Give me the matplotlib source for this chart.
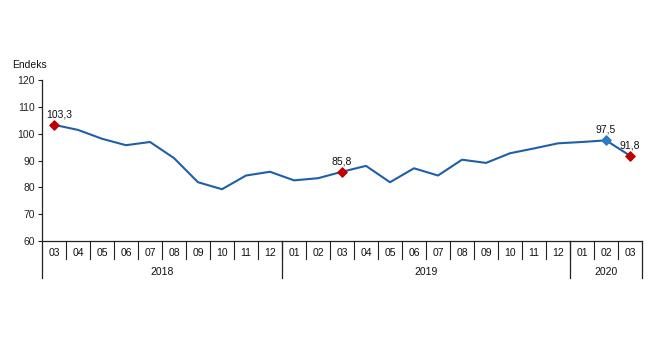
import matplotlib
matplotlib.use('Agg')
import matplotlib.pyplot as plt
from matplotlib.transforms import blended_transform_factory

plt.rcParams['font.family'] = ['Liberation Sans', 'DejaVu Sans']

# veri
months = ["03", "04", "05", "06", "07", "08", "09", "10", "11", "12",
          "01", "02", "03", "04", "05", "06", "07", "08", "09", "10", "11", "12",
          "01", "02", "03"]
years = ["2018", "2019", "2020"]
year_counts = [10, 12, 3]
values = [103.3, 101.4, 98.1, 95.7, 96.9, 90.9, 81.9, 79.3, 84.4, 85.8,
          82.6, 83.4, 85.8, 88.0, 81.9, 87.1, 84.4, 90.3, 89.1, 92.7, 94.5, 96.4,
          96.9, 97.5, 91.8]
red_points = [0, 12, 24]
blue_points = [23]
y_ticks = [60, 70, 80, 90, 100, 110, 120]

LINE = '#1F5FA8'
RED = '#C00000'
BLUE = '#2E7BC0'

fig = plt.figure(figsize=(6.5, 3.6), dpi=100)
ax = fig.add_axes([42 / 650, 119 / 360, 600 / 650, 161 / 360])

x = list(range(len(values)))
ax.plot(x, values, color=LINE, lw=1.5, zorder=2)
ax.scatter([x[i] for i in red_points], [values[i] for i in red_points],
           marker='D', s=22, color=RED, zorder=3)
ax.scatter([x[i] for i in blue_points], [values[i] for i in blue_points],
           marker='D', s=22, color=BLUE, zorder=3)

for i in red_points + blue_points:
    lbl = f"{values[i]:.1f}".replace('.', ',')
    dx = 0.2 if i == 0 else 0
    ax.annotate(lbl, (x[i] + dx, values[i]), xytext=(0, 4), textcoords='offset points',
                ha='center', va='bottom', fontsize=7.5, color='#111111')

ax.set_xlim(-0.5, len(values) - 0.5)
ax.set_ylim(60, 120)
ax.set_yticks(y_ticks)
ax.tick_params(axis='y', labelsize=7.5, length=3, width=0.8, pad=2, colors='#222222')
ax.set_xticks([])

for s in ['top', 'right']:
    ax.spines[s].set_visible(False)
ax.spines['left'].set_color('#222222')
ax.spines['bottom'].set_color('#222222')
ax.spines['left'].set_linewidth(0.9)
ax.spines['bottom'].set_linewidth(0.9)

# kategori ekseni (ay / yil)
tr = blended_transform_factory(ax.transData, ax.transAxes)
month_h = 18 / 161
year_h = 37 / 161
for i, m in enumerate(months):
    ax.text(i, -11.5 / 161, m, transform=tr, ha='center', va='center', fontsize=7.5, color='#111111')
    if i > 0:
        ax.plot([i - 0.5, i - 0.5], [0, -month_h], transform=tr, color='#222222', lw=0.8, clip_on=False)

start = 0
bounds = [-0.5]
for yr, n in zip(years, year_counts):
    mid = start + (n - 1) / 2
    ax.text(mid, -31 / 161, yr, transform=tr, ha='center', va='center', fontsize=7.5, color='#111111')
    start += n
    bounds.append(start - 0.5)
for b in bounds:
    ax.plot([b, b], [0, -year_h], transform=tr, color='#222222', lw=0.9, clip_on=False)

fig.text(12 / 650, 1 - 65 / 360, "Endeks", ha='left', va='center', fontsize=7.5, color='#111111')

fig.savefig('out.png', dpi=100, facecolor='white')
